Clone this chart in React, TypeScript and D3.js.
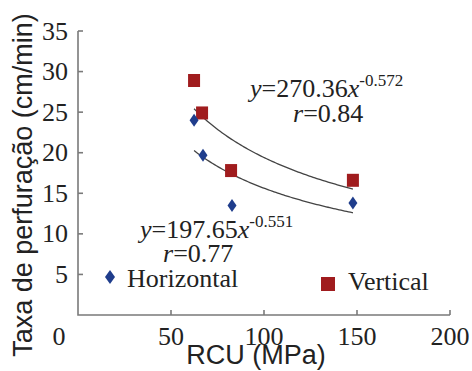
import React from "react";
import * as d3 from "d3";

// RCU (MPa) vs penetration rate (cm/min)
const horizontalRcu = [62.4, 67.2, 82.8, 147.8];
const horizontalRate = [24.0, 19.7, 13.5, 13.8];
const verticalRcu = [62.4, 66.7, 82.3, 147.8];
const verticalRate = [28.9, 24.9, 17.8, 16.6];

// Power-law fits y = a * x^b
const horizontalFit = { a: 197.65, b: -0.551, r: 0.77 };
const verticalFit = { a: 270.36, b: -0.572, r: 0.84 };
const fitRange = [62.4, 147.8];

const xTicks = [50, 100, 150, 200];
const yTicks = [5, 10, 15, 20, 25, 30, 35];

const W = 472;
const H = 371;
const serif = "'Liberation Serif', 'Times New Roman', serif";
const sans = "'Liberation Sans', Arial, sans-serif";
const axisColor = "#7a7a7a";
const red = "#a01c1e";
const blue = "#1f3d8c";

export default function App() {
  const x = d3.scaleLinear().domain([0, 200]).range([78, 450]);
  const y = d3.scaleLinear().domain([0, 35]).range([315, 31]);

  const fitLine = (a: number, b: number) => {
    const pts = d3.range(fitRange[0], fitRange[1] + 0.01, 1).map((v) => [v, a * Math.pow(v, b)] as [number, number]);
    pts.push([fitRange[1], a * Math.pow(fitRange[1], b)]);
    return d3
      .line<[number, number]>()
      .x((d) => x(d[0]))
      .y((d) => y(d[1]))(pts) as string;
  };

  const diamond = (cx: number, cy: number, w: number, h: number) =>
    `M${cx},${cy - h / 2}L${cx + w / 2},${cy}L${cx},${cy + h / 2}L${cx - w / 2},${cy}Z`;

  return (
    <svg width={W} height={H} style={{ position: "absolute", left: 0, top: 0, background: "#fff" }}>
      {/* axes */}
      <g stroke={axisColor} strokeWidth={1.6} fill="none">
        <path d={`M${x(0)},${y(35)}L${x(0)},${y(0)}L${x(200)},${y(0)}`} />
        {yTicks.map((t) => (
          <line key={"yt" + t} x1={x(0)} x2={x(0) + 5} y1={y(t)} y2={y(t)} />
        ))}
        {xTicks.map((t) => (
          <line key={"xt" + t} x1={x(t)} x2={x(t)} y1={y(0)} y2={y(0) - 5} />
        ))}
      </g>
      <g fontFamily={serif} fontSize={26} fill="#222">
        {yTicks.map((t) => (
          <text key={"yl" + t} x={68} y={y(t)} dy="0.33em" textAnchor="end">
            {t}
          </text>
        ))}
        {xTicks.map((t) => (
          <text key={"xl" + t} x={x(t)} y={345} textAnchor="middle">
            {t}
          </text>
        ))}
        <text x={59} y={345} textAnchor="middle">0</text>
      </g>
      {/* axis titles */}
      <text x={256} y={364} textAnchor="middle" fontFamily={sans} fontSize={27} fill="#222">
        RCU (MPa)
      </text>
      <text
        transform={`translate(32,185) rotate(-90)`}
        textAnchor="middle"
        fontFamily={sans}
        fontSize={27}
        fill="#222"
      >
        Taxa de perfuração (cm/min)
      </text>

      {/* fitted curves */}
      <path d={fitLine(verticalFit.a, verticalFit.b)} fill="none" stroke="#444" strokeWidth={1.3} />
      <path d={fitLine(horizontalFit.a, horizontalFit.b)} fill="none" stroke="#444" strokeWidth={1.3} />

      {/* points */}
      {verticalRcu.map((v, i) => (
        <rect key={"v" + i} x={x(v) - 6} y={y(verticalRate[i]) - 6.5} width={12} height={13} fill={red} />
      ))}
      {horizontalRcu.map((v, i) => (
        <path key={"h" + i} d={diamond(x(v), y(horizontalRate[i]), 9, 13)} fill={blue} />
      ))}

      {/* equations */}
      <g fontFamily={serif} fill="#222">
        <text x={250} y={97} fontSize={26}>
          <tspan fontStyle="italic">y</tspan>={verticalFit.a.toFixed(2)}
          <tspan fontStyle="italic">x</tspan>
          <tspan fontSize={17} dy={-11}>{verticalFit.b.toFixed(3)}</tspan>
        </text>
        <text x={293} y={122} fontSize={26}>
          <tspan fontStyle="italic">r</tspan>={verticalFit.r.toFixed(2)}
        </text>
        <text x={140} y={238} fontSize={26}>
          <tspan fontStyle="italic">y</tspan>={horizontalFit.a.toFixed(2)}
          <tspan fontStyle="italic">x</tspan>
          <tspan fontSize={17} dy={-11}>{horizontalFit.b.toFixed(3)}</tspan>
        </text>
        <text x={163} y={262} fontSize={26}>
          <tspan fontStyle="italic">r</tspan>={horizontalFit.r.toFixed(2)}
        </text>
      </g>

      {/* legend */}
      <path d={diamond(110, 277, 10, 14)} fill={blue} />
      <text x={127} y={287} fontFamily={serif} fontSize={26} fill="#222">Horizontal</text>
      <rect x={321} y={277} width={14} height={14} fill={red} />
      <text x={348} y={290} fontFamily={serif} fontSize={26} fill="#222">Vertical</text>
    </svg>
  );
}
